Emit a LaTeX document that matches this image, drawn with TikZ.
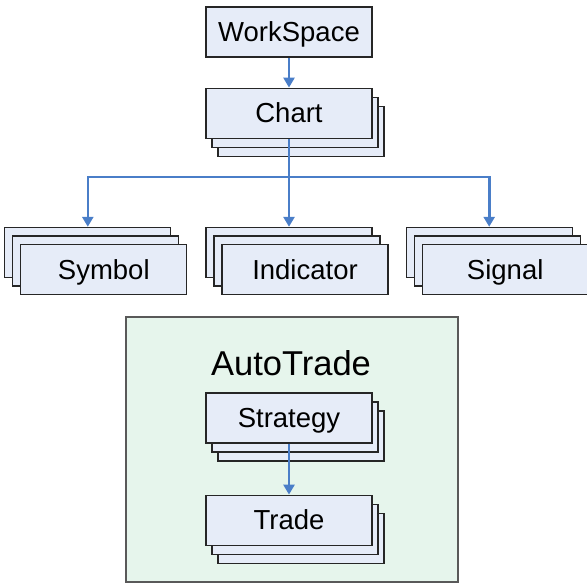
\documentclass[tikz,border=0pt]{standalone}
\usepackage{fontspec}
\setmainfont{Liberation Sans}
\usetikzlibrary{positioning,shadows,arrows.meta}

\definecolor{boxfill}{RGB}{230,236,248}
\definecolor{groupfill}{RGB}{230,245,236}
\definecolor{linkblue}{RGB}{74,126,200}

\tikzset{
  obj/.style={draw=black!85, fill=boxfill, line width=1.2pt,
    minimum width=166pt, minimum height=50pt, inner sep=0pt,
    text height=19.5pt, text depth=0pt, font=\fontsize{27.5}{32}\selectfont},
  % stacks of three boxes, copies behind
  stackdown/.style={copy shadow={shadow xshift=12pt, shadow yshift=-18pt},
    copy shadow={shadow xshift=6pt, shadow yshift=-9pt}},
  stackup/.style={copy shadow={shadow xshift=-16pt, shadow yshift=17pt},
    copy shadow={shadow xshift=-8pt, shadow yshift=8.5pt}},
  link/.style={draw=linkblue, line width=2.6pt,
    -{Triangle[width=11pt,length=10pt]}},
  group/.style={draw=black!65, fill=groupfill, line width=1.2pt,
    minimum width=332pt, minimum height=265pt}
}

\begin{document}
\begin{tikzpicture}[x=1pt, y=1pt]
  \useasboundingbox (0,0) rectangle (587,-584);

  \node[obj] (ws) at (289,-32) {WorkSpace};
  \node[obj, stackdown, below=30pt of ws] (chart) {Chart};

  \node[obj, stackup, below=105pt of chart, xshift=16pt] (indicator) {Indicator};
  \node[obj, stackup, left=34pt of indicator] (symbol) {Symbol};
  \node[obj, stackup, right=33pt of indicator] (signal) {Signal};

  % auto trading group
  \node[group] (auto) at (292,-449.5) {};
  \node[anchor=base, font=\fontsize{34.5}{40}\selectfont] (autotitle) at (291,-375) {AutoTrade};
  \node[obj, stackdown] (strategy) at (289,-418) {Strategy};
  \node[obj, stackdown, below=51pt of strategy] (trade) {Trade};

  % arrow ends on the back boxes
  \coordinate (fork) at ([yshift=-38pt]chart.south);
  \coordinate (symtop) at ([shift={(-16pt,17pt)}]symbol.north);
  \coordinate (indtop) at ([shift={(-16pt,17pt)}]indicator.north);
  \coordinate (sigtop) at ([shift={(-16pt,17pt)}]signal.north);

  \draw[link] (ws) -- (chart);
  \draw[link] (chart.south) -- (indtop);
  \draw[link] (fork) -| (symtop);
  \draw[link] (fork) -| (sigtop);
  \draw[link] (strategy) -- (trade);
\end{tikzpicture}
\end{document}
